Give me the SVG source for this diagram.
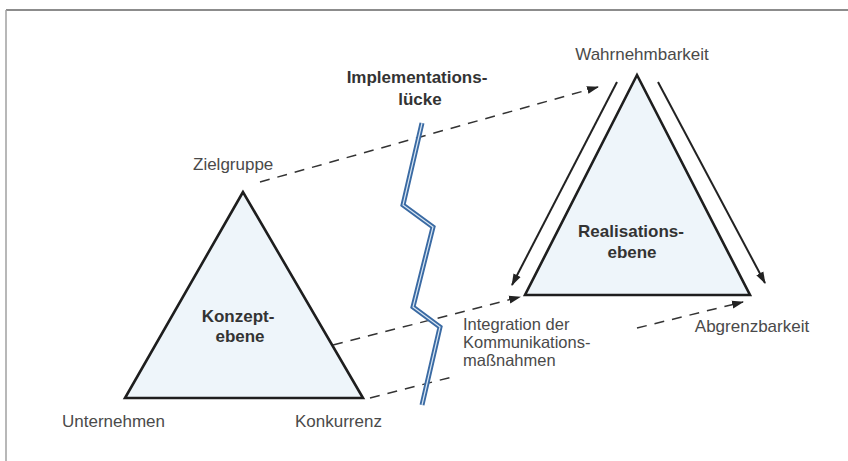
<svg xmlns="http://www.w3.org/2000/svg" width="848" height="461" viewBox="0 0 848 461">
  <defs>
    <marker id="head" viewBox="0 0 12 10" refX="11" refY="5" markerWidth="12" markerHeight="10" markerUnits="userSpaceOnUse" orient="auto">
      <path d="M0,1 L12,5 L0,9 Z" fill="#222"/>
    </marker>
  </defs>
  <style>
    text { font-family: "Liberation Sans", Arial, sans-serif; font-size: 17px; fill: #4a4a4a; }
    .bold { font-weight: bold; fill: #333; }
    .small { font-size: 16.5px; }
    .tri { fill: #eef5fa; stroke: #1e1e1e; stroke-width: 2.6; stroke-linejoin: miter; }
    .dash { fill: none; stroke: #333; stroke-width: 1.5; stroke-dasharray: 10 8; }
    .solid { fill: none; stroke: #222; stroke-width: 2; }
  </style>

  <rect width="848" height="461" fill="#ffffff"/>
  <!-- frame: top rule and left rule -->
  <line x1="6" y1="10" x2="848" y2="10" stroke="#8c8c8c" stroke-width="2"/>
  <line x1="6" y1="10" x2="6" y2="461" stroke="#a0a0a0" stroke-width="1.5"/>

  <!-- concept level -->
  <g id="konzept">
    <polygon class="tri" points="243,192 125,398 363,398"/>
    <text class="bold" x="238" y="322" text-anchor="middle">Konzept-</text>
    <text class="bold" x="240" y="342" text-anchor="middle">ebene</text>
  </g>
  <g id="zielgruppe"><text x="193" y="170">Zielgruppe</text></g>
  <g id="unternehmen"><text x="62" y="427">Unternehmen</text></g>
  <g id="konkurrenz"><text x="295" y="427">Konkurrenz</text></g>

  <!-- realisation level -->
  <g id="realisation">
    <polygon class="tri" points="637,75 525,295 750,295"/>
    <text class="bold" x="631" y="237" text-anchor="middle">Realisations-</text>
    <text class="bold" x="632" y="258" text-anchor="middle">ebene</text>
  </g>
  <g id="wahrnehmbarkeit"><text x="642" y="60" text-anchor="middle">Wahrnehmbarkeit</text></g>
  <g id="abgrenzbarkeit"><text x="752" y="332" text-anchor="middle">Abgrenzbarkeit</text></g>
  <g id="integration">
    <text class="small" x="463" y="330">Integration der</text>
    <text class="small" x="463" y="348">Kommunikations-</text>
    <text class="small" x="463" y="366">maßnahmen</text>
  </g>

  <!-- connectors -->
  <g id="connectors">
    <line class="dash" x1="260" y1="182" x2="598" y2="87" marker-end="url(#head)"/>
    <line class="dash" x1="333" y1="345" x2="520" y2="297" marker-end="url(#head)"/>
    <line class="dash" x1="370" y1="398" x2="452" y2="377"/>
    <line class="dash" x1="637" y1="328" x2="743" y2="302" marker-end="url(#head)"/>
    <line class="solid" x1="617" y1="82" x2="512" y2="285" marker-end="url(#head)"/>
    <line class="solid" x1="658" y1="82" x2="765" y2="283" marker-end="url(#head)"/>
  </g>

  <!-- implementation gap -->
  <g id="luecke">
    <polyline points="422,123 403,205 433,227 413,307 440,327 422,405" fill="none" stroke="#3a6aa3" stroke-width="5" stroke-linejoin="miter"/>
    <polyline points="422,123 403,205 433,227 413,307 440,327 422,405" fill="none" stroke="#d8e6f3" stroke-width="1.2" stroke-linejoin="miter"/>
    <text class="bold" x="417" y="83" text-anchor="middle">Implementations-</text>
    <text class="bold" x="420" y="105" text-anchor="middle">lücke</text>
  </g>
</svg>
